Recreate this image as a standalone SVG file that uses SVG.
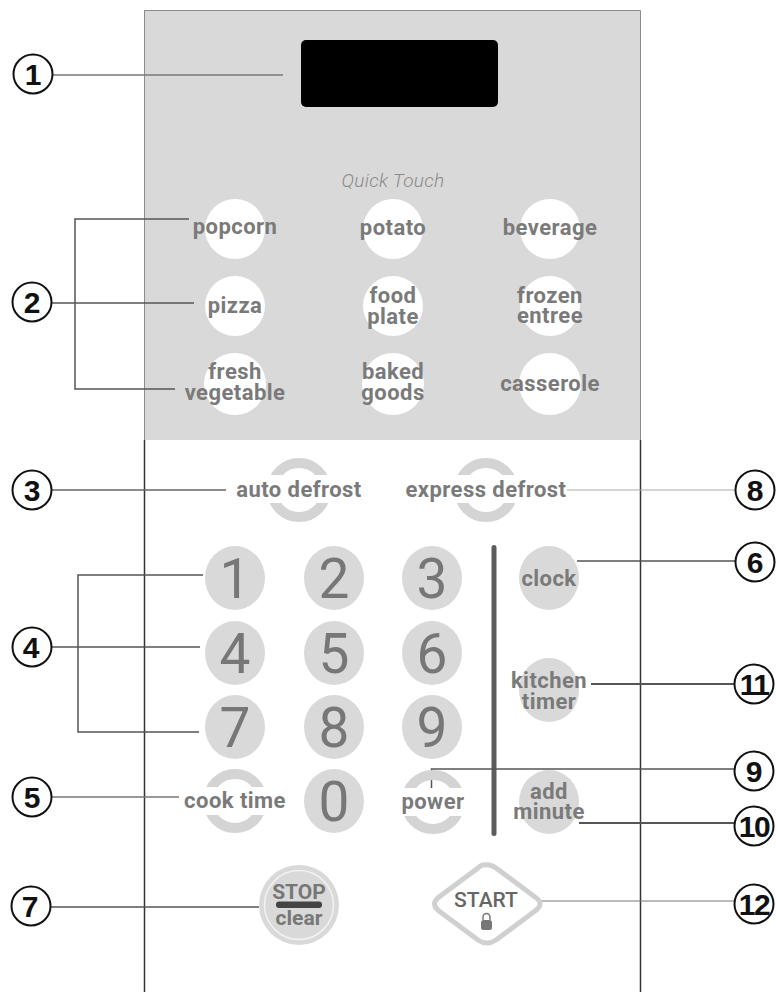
<svg xmlns="http://www.w3.org/2000/svg" width="777" height="992" viewBox="0 0 777 992">
<style>
text{font-family:"Roboto","Liberation Sans",sans-serif;text-anchor:middle}
.k{font-size:22px;font-weight:700;fill:#7a7a7a;letter-spacing:.45px}
.d{font-size:55px;fill:#777}
.n{font-size:30px;font-weight:700;fill:#111;font-family:"Liberation Sans",sans-serif}
.t{letter-spacing:-1.500px}
.c{fill:#fff;stroke:#111;stroke-width:2}
.w{fill:#fff}
.g{fill:#d9d9d9}
.r{fill:none;stroke:#d4d4d4;stroke-width:10}
.l{fill:none;stroke:#555;stroke-width:1.5}
</style>
<rect width="777" height="992" fill="#fff"/>
<g id="panel">
<rect x="144" y="10" width="497" height="430" fill="#d9d9d9"/>
<path d="M144.500 440V10.500H640.500V440" fill="none" stroke="#8c8c8c" stroke-width="1"/>
<path d="M144.500 440V992M640.500 440V992" fill="none" stroke="#333" stroke-width="1.500"/>
<rect x="301" y="40" width="197" height="67" rx="5" fill="#000"/>
<text x="393" y="187" font-size="19" font-style="italic" fill="#8a8a8a" letter-spacing=".3" style="font-weight:300">Quick Touch</text>
<rect x="491.500" y="545" width="5" height="291" rx="2.500" fill="#5c5c5c"/>
</g>
<g id="connectors" class="l">
<path d="M53 75H283" stroke="#777"/>
<path d="M189 219H75V389H175"/>
<path d="M52 303H194"/>
<path d="M52 490H226" stroke="#666"/>
<path d="M203 575H78V732H199"/>
<path d="M52 647H200"/>
<path d="M52 797H179" stroke="#777"/>
<path d="M51 907H259"/>
<path d="M567 490H735" stroke="#aaa" style="stroke-width:1"/>
<path d="M577 561H735"/>
<path d="M591 684H735" style="stroke-width:2"/>
<path d="M431.500 789V769H735"/>
<path d="M579 823H735" style="stroke-width:2"/>
<path d="M540 901H735" stroke="#777" style="stroke-width:1"/>
</g>
<g id="quick-keys">
<g id="key-popcorn"><circle class="w" cx="235" cy="229" r="30"/><text class="k" x="235" y="234">popcorn</text></g>
<g id="key-potato"><circle class="w" cx="393" cy="229" r="30"/><text class="k" x="393" y="235">potato</text></g>
<g id="key-beverage"><circle class="w" cx="550" cy="229" r="30"/><text class="k" x="550" y="235">beverage</text></g>
<g id="key-pizza"><circle class="w" cx="235" cy="306" r="30"/><text class="k" x="235" y="313">pizza</text></g>
<g id="key-food-plate"><circle class="w" cx="393" cy="306" r="30"/><text class="k"><tspan x="393" y="303">food</tspan><tspan x="393" y="324">plate</tspan></text></g>
<g id="key-frozen-entree"><circle class="w" cx="550" cy="306" r="30"/><text class="k"><tspan x="550" y="303">frozen</tspan><tspan x="550" y="323">entree</tspan></text></g>
<g id="key-fresh-vegetable"><circle class="w" cx="235" cy="384" r="31"/><text class="k"><tspan x="235" y="379">fresh</tspan><tspan x="235" y="400">vegetable</tspan></text></g>
<g id="key-baked-goods"><circle class="w" cx="393" cy="384" r="31"/><text class="k"><tspan x="393" y="379">baked</tspan><tspan x="393" y="400">goods</tspan></text></g>
<g id="key-casserole"><circle class="w" cx="550" cy="384" r="31"/><text class="k" x="550" y="391">casserole</text></g>
</g>
<g id="modes">
<g id="key-auto-defrost"><circle class="r" cx="299" cy="490" r="27"/><rect class="w" x="240" y="475" width="118" height="28"/><text class="k" x="299" y="497">auto defrost</text></g>
<g id="key-express-defrost"><circle class="r" cx="486" cy="490" r="27"/><rect class="w" x="425" y="475" width="122" height="28"/><text class="k" x="486" y="497">express defrost</text></g>
<g id="key-cook-time"><circle class="r" cx="235" cy="801" r="27"/><rect class="w" x="190" y="787" width="90" height="28"/><text class="k" x="235" y="808">cook time</text></g>
<g id="key-power"><circle class="r" cx="433" cy="802" r="27"/><rect class="w" x="400" y="788" width="66" height="28"/><text class="k" x="433" y="809">power</text></g>
</g>
<g id="digits">
<g id="key-1"><ellipse class="g" cx="235" cy="578" rx="30" ry="32"/><text class="d" x="235" y="598">1</text></g>
<g id="key-2"><ellipse class="g" cx="334" cy="578" rx="30" ry="32"/><text class="d" x="334" y="598">2</text></g>
<g id="key-3"><ellipse class="g" cx="432" cy="578" rx="30" ry="32"/><text class="d" x="432" y="598">3</text></g>
<g id="key-4"><ellipse class="g" cx="235" cy="653" rx="30" ry="32"/><text class="d" x="235" y="673">4</text></g>
<g id="key-5"><ellipse class="g" cx="334" cy="653" rx="30" ry="32"/><text class="d" x="334" y="673">5</text></g>
<g id="key-6"><ellipse class="g" cx="432" cy="653" rx="30" ry="32"/><text class="d" x="432" y="673">6</text></g>
<g id="key-7"><ellipse class="g" cx="235" cy="727" rx="30" ry="32"/><text class="d" x="235" y="747">7</text></g>
<g id="key-8"><ellipse class="g" cx="334" cy="727" rx="30" ry="32"/><text class="d" x="334" y="747">8</text></g>
<g id="key-9"><ellipse class="g" cx="432" cy="727" rx="30" ry="32"/><text class="d" x="432" y="747">9</text></g>
<g id="key-0"><ellipse class="g" cx="334" cy="801" rx="30" ry="32"/><text class="d" x="334" y="821">0</text></g>
</g>
<g id="side-keys">
<g id="key-clock"><ellipse class="g" cx="549" cy="578" rx="30" ry="32"/><text class="k" x="549" y="586">clock</text></g>
<g id="key-kitchen-timer"><ellipse class="g" cx="549" cy="690" rx="30" ry="32"/><text class="k"><tspan x="549" y="688">kitchen</tspan><tspan x="549" y="709">timer</tspan></text></g>
<g id="key-add-minute"><ellipse class="g" cx="549" cy="802" rx="30" ry="32"/><text class="k"><tspan x="549" y="799">add</tspan><tspan x="549" y="819">minute</tspan></text></g>
</g>
<g id="key-stop">
<circle cx="299" cy="905" r="40" fill="#d9d9d9"/>
<circle cx="299" cy="905" r="34.500" fill="none" stroke="#f2f2f2" stroke-width="1.500"/>
<text x="299" y="899" font-size="21" font-weight="700" fill="#777">STOP</text>
<rect x="276" y="901.500" width="46" height="6.500" rx="3" fill="#444"/>
<text x="299" y="925" font-size="21" font-weight="700" fill="#777">clear</text>
</g>
<g id="key-start">
<path d="M486 865Q490 864 496 868L535 897Q545 904 535 911L496 940Q487 946 478 940L439 911Q430 904 439 897L478 868Q482 864 486 865Z" fill="#fff" stroke="#d0d0d0" stroke-width="5"/>
<text x="486" y="907" font-size="21" font-weight="500" fill="#666">START</text>
<path d="M483 920V917a3.500 3.500 0 0 1 7 0V920" fill="none" stroke="#777" stroke-width="1.500"/>
<rect x="481" y="920" width="11" height="10" rx="2.500" fill="#777"/>
</g>
<g id="callouts">
<g id="callout-1"><circle class="c" cx="33" cy="74" r="19.500"/><text class="n" x="33" y="85">1</text></g>
<g id="callout-2"><circle class="c" cx="32" cy="302" r="19.500"/><text class="n" x="32" y="313">2</text></g>
<g id="callout-3"><circle class="c" cx="32" cy="490" r="19.500"/><text class="n" x="32" y="501">3</text></g>
<g id="callout-4"><circle class="c" cx="32" cy="647" r="19.500"/><text class="n" x="31" y="658">4</text></g>
<g id="callout-5"><circle class="c" cx="32" cy="797" r="19.500"/><text class="n" x="32" y="808">5</text></g>
<g id="callout-7"><circle class="c" cx="31" cy="906" r="19.500"/><text class="n" x="30" y="917">7</text></g>
<g id="callout-8"><circle class="c" cx="755" cy="490" r="19.500"/><text class="n" x="755" y="501">8</text></g>
<g id="callout-6"><circle class="c" cx="755" cy="562" r="19.500"/><text class="n" x="755" y="573">6</text></g>
<g id="callout-11"><circle class="c" cx="754" cy="684" r="19.500"/><text class="n t" x="754" y="695">11</text></g>
<g id="callout-9"><circle class="c" cx="754" cy="771" r="19.500"/><text class="n" x="754" y="782">9</text></g>
<g id="callout-10"><circle class="c" cx="754" cy="826" r="19.500"/><text class="n t" x="754" y="837">10</text></g>
<g id="callout-12"><circle class="c" cx="754" cy="904" r="19.500"/><text class="n t" x="754" y="915">12</text></g>
</g>
</svg>
